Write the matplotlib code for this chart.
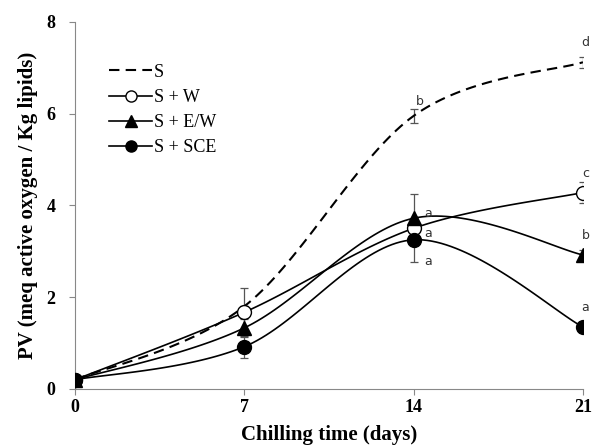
import numpy as np
import matplotlib
matplotlib.use("Agg")
from matplotlib import pyplot as plt
from matplotlib.lines import Line2D

days = [0, 7, 14, 21]
s_vals = [0.2, 1.8, 5.95, 7.12]
s_err = [0, 0, 0.15, 0.12]
sw_vals = [0.2, 1.67, 3.5, 4.28]
sw_err = [0, 0.52, 0.2, 0.22]
sew_vals = [0.2, 1.33, 3.72, 2.92]
sew_err = [0, 0.2, 0.52, 0.1]
sce_vals = [0.2, 0.92, 3.25, 1.35]
sce_err = [0, 0.25, 0.48, 0.05]

letters_21 = [("d", 7.12), ("c", 4.28), ("b", 2.92), ("a", 1.35)]
letters_14 = [("b", 5.95), ("a", 3.72), ("a", 3.5), ("a", 3.25)]

XS, YS = 24.2, 45.9  # pixels per unit, so the smoothing looks like Excel's


def smooth(xs, ys, n=40):
    # bezier with catmull-rom style control points, done in pixel space
    p = np.column_stack([np.array(xs) * XS, np.array(ys) * YS])
    out = []
    for i in range(len(p) - 1):
        p0 = p[i - 1] if i > 0 else p[i]
        p1, p2 = p[i], p[i + 1]
        p3 = p[i + 2] if i + 2 < len(p) else p[i + 1]
        c1 = p1 + (p2 - p0) / 6
        c2 = p2 - (p3 - p1) / 6
        t = np.linspace(0, 1, n)[:, None]
        seg = ((1 - t) ** 3) * p1 + 3 * ((1 - t) ** 2) * t * c1 + 3 * (1 - t) * t ** 2 * c2 + t ** 3 * p2
        out.append(seg)
    out = np.vstack(out)
    return out[:, 0] / XS, out[:, 1] / YS


fig = plt.figure(figsize=(5.93, 4.46), dpi=100)
ax = fig.add_axes([0.1265, 0.128, 0.8565, 0.823])

ebkw = dict(fmt='none', ecolor='#555555', elinewidth=0.9, capsize=3, capthick=0.9, zorder=2)

x, y = smooth(days, s_vals)
ax.plot(x, y, color='black', lw=1.5, ls=(0, (5, 3)), zorder=3)
ax.errorbar(days, s_vals, yerr=s_err, **ebkw)

series = [(sw_vals, sw_err, 'o', 'white'),
          (sew_vals, sew_err, '^', 'black'),
          (sce_vals, sce_err, 'o', 'black')]
for vals, err, mk, fc in series:
    x, y = smooth(days, vals)
    ax.plot(x, y, color='black', lw=1.2, zorder=3)
    ax.errorbar(days, vals, yerr=err, **ebkw)
    ax.plot(days, vals, ls='none', marker=mk, ms=10, mfc=fc, mec='black', mew=1, zorder=4)

for lab, v in letters_21:
    ax.text(21.1, v + 0.28, lab, fontsize=9, color='#333333', ha='center', va='bottom')
ax.text(14.1, letters_14[0][1] + 0.17, letters_14[0][0], fontsize=9, color='#333333', va='bottom')
ax.text(14.45, 3.82, 'a', fontsize=9, color='#333333', va='center')
ax.text(14.45, 3.38, 'a', fontsize=9, color='#333333', va='center')
ax.text(14.45, 2.78, 'a', fontsize=9, color='#333333', va='center')

ax.set_xlim(0, 21)
ax.set_ylim(0, 8)
ax.set_xticks(days)
ax.set_yticks([0, 2, 4, 6, 8])
for sp in ['top', 'right']:
    ax.spines[sp].set_visible(False)
for sp in ['left', 'bottom']:
    ax.spines[sp].set_color('#888888')
ax.tick_params(colors='#888888', length=4, labelcolor='black')
ax.tick_params(axis='y', pad=10)
for t in ax.get_xticklabels() + ax.get_yticklabels():
    t.set_fontfamily('Liberation Serif')
    t.set_fontweight('bold')
    t.set_fontsize(13)
ax.set_xlabel('Chilling time (days)', fontfamily='Liberation Serif', fontweight='bold', fontsize=15, labelpad=6)
ax.set_ylabel('PV (meq active oxygen / Kg lipids)', fontfamily='Liberation Serif', fontweight='bold', fontsize=15, labelpad=6)

handles = [Line2D([], [], color='black', lw=1.5, ls=(0, (5, 3))),
           Line2D([], [], color='black', lw=1.2, marker='o', ms=8, mfc='white', mec='black'),
           Line2D([], [], color='black', lw=1.2, marker='^', ms=8, mfc='black', mec='black'),
           Line2D([], [], color='black', lw=1.2, marker='o', ms=8, mfc='black', mec='black')]
ax.legend(handles, ['S', 'S + W', 'S + E/W', 'S + SCE'], loc='upper left', bbox_to_anchor=(0.035, 0.93),
          frameon=False, handlelength=2.4, handletextpad=0.1, labelspacing=0.45,
          prop={'family': 'Liberation Serif', 'size': 13})

fig.savefig('out.png', dpi=100)
